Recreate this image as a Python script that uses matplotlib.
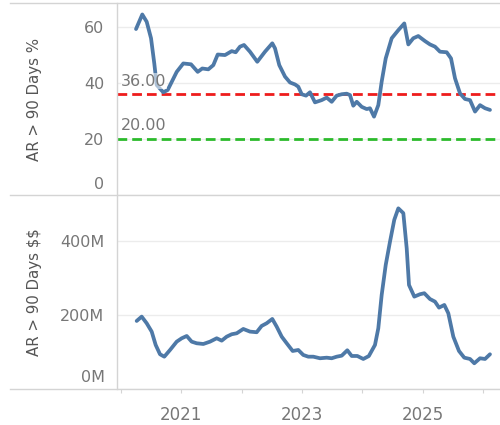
import numpy as np
import matplotlib
matplotlib.use('Agg')
import matplotlib.pyplot as plt
import matplotlib.transforms as mtransforms
from matplotlib.lines import Line2D

plt.rcParams['font.family'] = ['DejaVu Sans']

# AR > 90 Tage in % (Zeit als Dezimaljahr)
pct_years = [2020.249, 2020.353, 2020.426, 2020.498, 2020.552, 2020.592, 2020.701, 2020.774,
             2020.924, 2021.033, 2021.161, 2021.272, 2021.348, 2021.448, 2021.531, 2021.604,
             2021.725, 2021.836, 2021.902, 2021.973, 2022.040, 2022.139, 2022.260, 2022.388,
             2022.509, 2022.554, 2022.625, 2022.720, 2022.803, 2022.886, 2022.940, 2022.997,
             2023.068, 2023.134, 2023.217, 2023.328, 2023.411, 2023.494, 2023.577, 2023.660,
             2023.743, 2023.798, 2023.852, 2023.909, 2023.992, 2024.075, 2024.129, 2024.196,
             2024.267, 2024.323, 2024.390, 2024.489, 2024.599, 2024.698, 2024.765, 2024.847,
             2024.930, 2025.041, 2025.124, 2025.207, 2025.290, 2025.401, 2025.473, 2025.539,
             2025.622, 2025.705, 2025.788, 2025.871, 2025.954, 2026.037, 2026.119]
pct_values = [59.3, 64.5, 61.9, 56.0, 47.0, 39.3, 36.7, 37.5,
              44.0, 47.0, 46.7, 44.0, 45.2, 44.9, 46.4, 50.2,
              50.0, 51.4, 51.0, 53.0, 53.6, 51.2, 47.6, 51.2,
              54.2, 52.4, 46.4, 42.3, 40.2, 39.5, 38.7, 36.0,
              35.5, 36.7, 33.1, 33.9, 34.8, 33.3, 35.5, 36.0,
              36.2, 35.7, 31.9, 33.3, 31.5, 30.7, 31.0, 28.0,
              32.1, 40.5, 48.8, 56.0, 58.9, 61.3, 53.8, 56.0,
              56.8, 55.0, 53.8, 53.0, 51.2, 51.0, 48.8, 41.7,
              36.3, 34.3, 33.9, 29.8, 32.1, 31.0, 30.4]

# AR > 90 Tage in Mio. $
usd_years = [2020.260, 2020.343, 2020.426, 2020.509, 2020.575, 2020.647, 2020.718, 2020.813,
             2020.924, 2021.007, 2021.090, 2021.172, 2021.255, 2021.365, 2021.476, 2021.587,
             2021.670, 2021.753, 2021.836, 2021.919, 2022.028, 2022.139, 2022.250, 2022.332,
             2022.416, 2022.509, 2022.582, 2022.665, 2022.748, 2022.847, 2022.940, 2023.023,
             2023.106, 2023.189, 2023.300, 2023.411, 2023.494, 2023.577, 2023.660, 2023.753,
             2023.826, 2023.919, 2024.018, 2024.110, 2024.212, 2024.267, 2024.323, 2024.390,
             2024.461, 2024.532, 2024.599, 2024.682, 2024.738, 2024.776, 2024.864, 2024.959,
             2025.030, 2025.124, 2025.207, 2025.274, 2025.362, 2025.428, 2025.511, 2025.605,
             2025.693, 2025.788, 2025.859, 2025.954, 2026.037, 2026.119]
usd_values = [183.8, 195.5, 177.6, 155.0, 119.0, 93.8, 87.3, 105.4,
              127.9, 137.0, 143.2, 127.9, 123.5, 121.6, 127.9, 137.0,
              130.6, 141.4, 147.9, 150.5, 162.2, 155.0, 153.3, 170.3,
              177.6, 189.2, 168.4, 141.4, 123.5, 102.7, 105.4, 91.9,
              87.3, 87.3, 83.0, 84.6, 83.0, 87.3, 90.0, 104.6,
              89.2, 89.2, 81.1, 89.0, 119.0, 164.0, 254.0, 335.0,
              398.0, 457.0, 488.0, 475.0, 380.0, 281.0, 249.5, 256.0,
              258.7, 243.0, 236.0, 219.8, 227.0, 204.6, 141.4, 102.7,
              84.6, 81.1, 69.5, 83.0, 81.1, 93.8]

ref_values = [36.0, 20.0]
ref_colors = ['#ee1c1c', '#2cbb2c']
pct_ticks = [0, 20, 40, 60]
usd_ticks = [0, 200, 400]
year_ticks = [2020, 2021, 2022, 2023, 2024, 2025, 2026]
year_labels = ['', '2021', '', '2023', '', '2025', '']

blue = '#4e79a7'
grid_col = '#ececec'
border_col = '#d4d4d4'
tick_col = '#777777'
title_col = '#555555'

fig = plt.figure(figsize=(5, 4.25), dpi=100)
W, H = 500, 425
ax1 = fig.add_axes([117 / W, (H - 195) / H, 1 - 117 / W, 192 / H])
ax2 = fig.add_axes([117 / W, (H - 389) / H, 1 - 117 / W, 194 / H])

xlim = (2020 - 4 / 60.3, 2020 + (500 - 121) / 60.3)

for ax in (ax1, ax2):
    ax.set_xlim(*xlim)
    for s in ax.spines.values():
        s.set_visible(False)
    ax.grid(axis='y', color=grid_col, linewidth=1)
    ax.set_axisbelow(True)
    ax.tick_params(axis='y', length=0, pad=9, labelsize=11.5, labelcolor=tick_col)

# oben: Prozent
ax1.plot(pct_years, pct_values, color=blue, linewidth=2.7, solid_capstyle='round',
         solid_joinstyle='round', zorder=3)
ax1.set_ylim(0, 68.6)
ax1.set_yticks(pct_ticks)
ax1.set_xticks([])
for val, col in zip(ref_values, ref_colors):
    ax1.axhline(val, color=col, linewidth=2, linestyle=(0, (3.5, 1.8)), zorder=2)
    ax1.annotate(f'{val:.2f}', xy=(2020, val), xytext=(0, 9.5), textcoords='offset points',
                 fontsize=11.5, color='#777777', va='center', ha='left', zorder=4,
                 bbox=dict(facecolor='white', alpha=0.55, edgecolor='none', pad=0.3))
ax1.set_ylabel('AR > 90 Days %', fontsize=10.8, color=title_col)

# unten: Dollar
ax2.plot(usd_years, usd_values, color=blue, linewidth=2.7, solid_capstyle='round',
         solid_joinstyle='round', zorder=3)
ax2.set_ylim(0, 524)
ax2.set_yticks(usd_ticks)
ax2.set_yticklabels([f'{v}M' for v in usd_ticks])
ax2.set_xticks(year_ticks)
ax2.set_xticklabels(year_labels)
ax2.tick_params(axis='x', length=3, color=border_col, pad=9, labelsize=12, labelcolor=tick_col)
ax2.set_ylabel(r'AR > 90 Days \$\$', fontsize=10.8, color=title_col)

# Achsentitel weiter links, wie im Original
for ax in (ax1, ax2):
    ax.yaxis.set_label_coords(-75 / 383, 0.5)

# 0-Label nach oben schieben wie in Tableau
off = mtransforms.ScaledTranslation(0, 9 / 72, fig.dpi_scale_trans)
for ax in (ax1, ax2):
    lab = ax.get_yticklabels()[0]
    lab.set_transform(lab.get_transform() + off)

# Rahmenlinien
for y in (3, 195, 389):
    fig.add_artist(Line2D([10 / W, 1], [(H - y) / H] * 2, color=border_col, linewidth=1))
fig.add_artist(Line2D([117 / W] * 2, [(H - 3) / H, (H - 389) / H], color=border_col, linewidth=1))

fig.savefig('out.png', dpi=100)
